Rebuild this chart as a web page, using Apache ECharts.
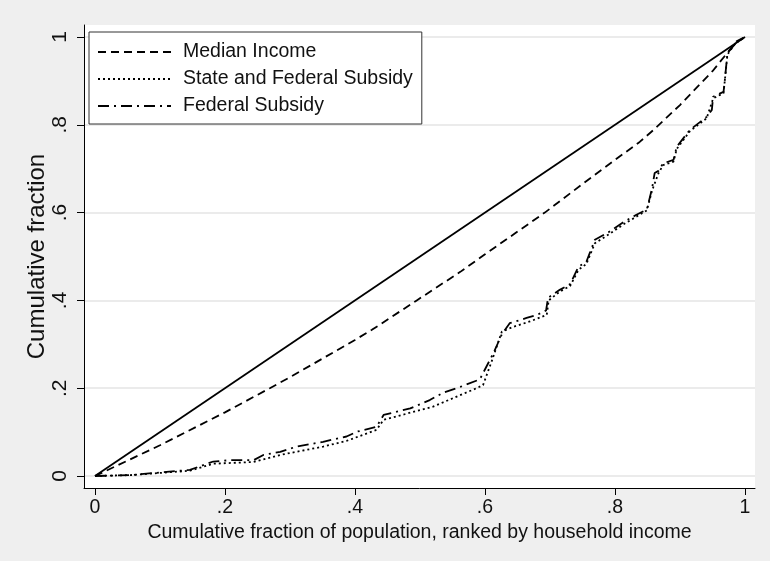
<!DOCTYPE html>
<html>
<head>
<meta charset="utf-8">
<script src="https://cdn.jsdelivr.net/npm/echarts@6/dist/echarts.min.js"></script>
<style>
  html, body { margin: 0; padding: 0; background: #efefef; }
  #chart { width: 770px; height: 561px; }
</style>
</head>
<body>
<div id="chart"></div>
<script>
// Lorenz-style curves: cumulative share vs. cumulative population share
const tickValues = [0, 0.2, 0.4, 0.6, 0.8, 1];

const equalityX = [0, 1];
const equalityY = [0, 1];

const medianX = [0, 0.1, 0.2, 0.269, 0.3, 0.4, 0.426, 0.495, 0.562, 0.6, 0.692, 0.75, 0.8, 0.838, 0.859, 0.9, 0.95, 0.987, 1];
const medianY = [0, 0.07, 0.145, 0.2, 0.225, 0.31, 0.333, 0.4, 0.465, 0.505, 0.6, 0.665, 0.72, 0.761, 0.788, 0.845, 0.922, 0.99, 1];

const stateFedX = [0, 0.054, 0.146, 0.182, 0.244, 0.285, 0.351, 0.387, 0.433, 0.444, 0.52, 0.587, 0.597, 0.61, 0.626, 0.644, 0.669, 0.695, 0.698, 0.715, 0.731, 0.744, 0.756, 0.769, 0.79, 0.815, 0.849, 0.857, 0.867, 0.874, 0.89, 0.895, 0.915, 0.941, 0.951, 0.967, 0.973, 0.985, 1];
const stateFedY = [0, 0.002, 0.012, 0.028, 0.032, 0.048, 0.067, 0.08, 0.105, 0.128, 0.158, 0.2, 0.207, 0.26, 0.329, 0.34, 0.352, 0.367, 0.4, 0.42, 0.433, 0.47, 0.483, 0.53, 0.55, 0.575, 0.605, 0.65, 0.69, 0.708, 0.716, 0.745, 0.785, 0.815, 0.86, 0.872, 0.96, 0.985, 1];

const fedX = [0, 0.054, 0.146, 0.182, 0.208, 0.244, 0.259, 0.285, 0.31, 0.351, 0.387, 0.403, 0.433, 0.444, 0.485, 0.515, 0.536, 0.562, 0.592, 0.613, 0.626, 0.638, 0.664, 0.68, 0.694, 0.697, 0.715, 0.731, 0.744, 0.756, 0.769, 0.79, 0.815, 0.833, 0.849, 0.857, 0.861, 0.867, 0.874, 0.89, 0.895, 0.915, 0.941, 0.949, 0.951, 0.967, 0.969, 0.973, 0.985, 1];
const fedY = [0, 0.002, 0.014, 0.033, 0.036, 0.036, 0.048, 0.055, 0.067, 0.078, 0.09, 0.101, 0.112, 0.139, 0.154, 0.173, 0.19, 0.203, 0.22, 0.28, 0.323, 0.348, 0.36, 0.367, 0.377, 0.406, 0.424, 0.437, 0.477, 0.488, 0.538, 0.555, 0.58, 0.595, 0.607, 0.655, 0.69, 0.695, 0.712, 0.72, 0.75, 0.788, 0.818, 0.834, 0.864, 0.875, 0.902, 0.963, 0.985, 1];

const zip = (xs, ys) => xs.map((x, i) => [x, ys[i]]);

const tickLabel = v => (v === 0 ? '0' : v === 1 ? '1' : String(+v.toFixed(1)).replace(/^0\./, '.'));

const FONT = 'Liberation Sans, Arial, Helvetica, sans-serif';
const INK = '#111';

const chart = echarts.init(document.getElementById('chart'), null, { renderer: 'canvas' });

chart.setOption({
  backgroundColor: '#efefef',
  animation: false,
  textStyle: { fontFamily: FONT, color: INK },
  grid: {
    left: 84, right: 15, top: 25, bottom: 73,
    show: true, backgroundColor: '#ffffff', borderWidth: 0
  },
  legend: {
    data: ['Median Income', 'State and Federal Subsidy', 'Federal Subsidy'],
    orient: 'vertical',
    left: 89, top: 32,
    itemWidth: 73, itemHeight: 14, itemGap: 7,
    padding: [10, 9, 8, 8],
    backgroundColor: '#ffffff',
    borderColor: '#333',
    borderWidth: 1,
    borderRadius: 0,
    itemStyle: { opacity: 0 },
    textStyle: { fontFamily: FONT, fontSize: 19.5, lineHeight: 20, color: INK, padding: [0, 0, 0, 7] }
  },
  xAxis: {
    type: 'value',
    min: -0.0169, max: 1.0154,
    name: 'Cumulative fraction of population, ranked by household income',
    nameLocation: 'middle', nameGap: 35, nameMoveOverlap: false,
    nameTextStyle: { fontFamily: FONT, fontSize: 19.5, color: INK },
    axisLine: { show: true, onZero: false, lineStyle: { color: '#000', width: 1 } },
    axisTick: { show: true, inside: false, length: 7, customValues: tickValues, lineStyle: { color: '#000', width: 1 } },
    axisLabel: { customValues: tickValues, formatter: tickLabel, fontSize: 19.5, color: INK, margin: 10, fontFamily: FONT },
    splitLine: { show: false }
  },
  yAxis: {
    type: 'value',
    min: -0.0273, max: 1.0273,
    name: 'Cumulative fraction',
    nameLocation: 'middle', nameGap: 35, nameRotate: 90, nameMoveOverlap: false,
    nameTextStyle: { fontFamily: FONT, fontSize: 24, color: INK },
    axisLine: { show: true, onZero: false, lineStyle: { color: '#000', width: 1 } },
    axisTick: { show: true, inside: false, length: 7, customValues: tickValues, lineStyle: { color: '#000', width: 1 } },
    axisLabel: { customValues: tickValues, formatter: tickLabel, rotate: 90, fontSize: 21, color: INK, margin: 13, fontFamily: FONT },
    splitLine: { show: true, lineStyle: { color: '#e4e4e4', width: 1.5 } }
  },
  series: [
    {
      name: 'Line of equality',
      type: 'line',
      data: zip(equalityX, equalityY),
      symbol: 'none',
      lineStyle: { color: '#000', width: 1.8, type: 'solid' },
      z: 3
    },
    {
      name: 'Median Income',
      type: 'line',
      data: zip(medianX, medianY),
      symbol: 'none',
      lineStyle: { color: '#000', width: 1.8, type: [8, 5] },
      itemStyle: { color: '#000' },
      z: 3
    },
    {
      name: 'State and Federal Subsidy',
      type: 'line',
      data: zip(stateFedX, stateFedY),
      symbol: 'none',
      lineStyle: { color: '#000', width: 1.8, type: [2, 3] },
      itemStyle: { color: '#000' },
      z: 3
    },
    {
      name: 'Federal Subsidy',
      type: 'line',
      data: zip(fedX, fedY),
      symbol: 'none',
      lineStyle: { color: '#000', width: 1.8, type: [11, 5, 2, 5] },
      itemStyle: { color: '#000' },
      z: 3
    }
  ]
});
</script>
</body>
</html>
